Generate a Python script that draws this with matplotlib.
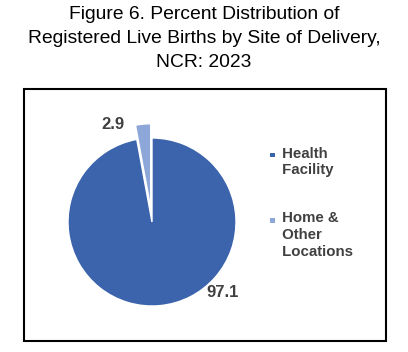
import matplotlib.pyplot as plt
from matplotlib.patches import Rectangle

plt.rcParams['font.family'] = ['Liberation Sans', 'DejaVu Sans']

sites = ['Health\nFacility', 'Home &\nOther\nLocations']
percent = [97.1, 2.9]
colors = ['#3B64AD', '#8EA7D9']
title = 'Figure 6. Percent Distribution of\nRegistered Live Births by Site of Delivery,\nNCR: 2023'

W, H = 408, 352
fig = plt.figure(figsize=(W / 100, H / 100), dpi=100)

# chart frame
fig.add_artist(Rectangle((24 / W, 11 / H), 362 / W, 252 / H, transform=fig.transFigure,
                         fill=False, edgecolor='black', linewidth=1.5))

fig.text(0.5, 1 - 6 / H, title, ha='center', va='top', fontsize=13.9,
         linespacing=1.52, color='black')

# pie centred at (152, 222) px, radius 84 px
ax = fig.add_axes([68 / W, 46 / H, 168 / W, 168 / H])
wedges, _ = ax.pie(percent, colors=colors, startangle=90, counterclock=False,
                   explode=[0, 0.17], wedgeprops=dict(edgecolor='white', linewidth=1))
for w in wedges:
    w.set_clip_on(False)
ax.set_xlim(-1, 1)
ax.set_ylim(-1, 1)
ax.set_aspect('equal')
ax.axis('off')

label_pos = [(0.84, -0.84), (-0.47, 1.16)]
for (x, y), p in zip(label_pos, percent):
    ax.text(x, y, f'{p:.1f}', ha='center', va='center', fontsize=12,
            fontweight='bold', color='#404040')

# legend
leg_y = [155, 220]
for lab, c, y in zip(sites, colors, leg_y):
    fig.add_artist(Rectangle((270 / W, (H - y - 2.5) / H), 5 / W, 5 / H,
                             transform=fig.transFigure, facecolor=c, edgecolor='none'))
    txt = '\n'.join(' ' + s for s in lab.split('\n'))
    fig.text(278 / W, 1 - (y - 8.5) / H, txt, ha='left', va='top', fontsize=10.8,
             fontweight='bold', color='#404040', linespacing=1.25)

fig.savefig('out.png', dpi=100)
